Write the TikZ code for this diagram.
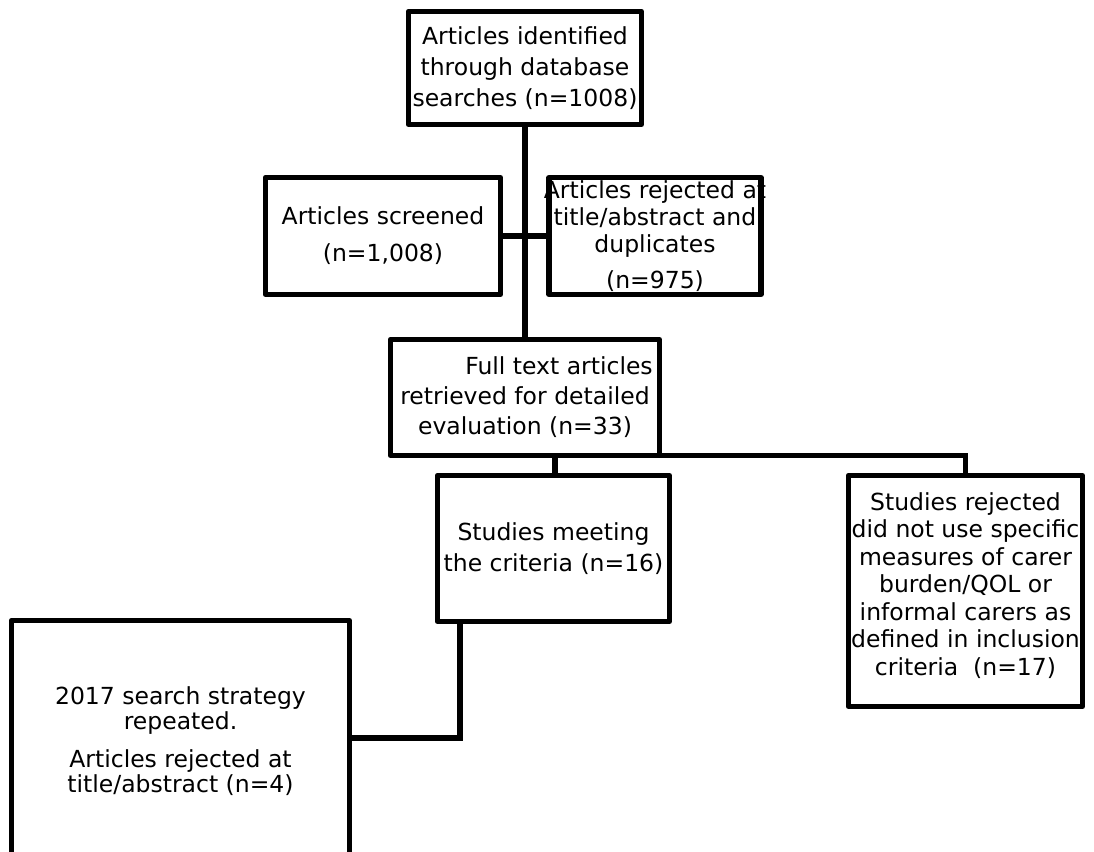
\documentclass[tikz,border=0pt]{standalone}
\usepackage{fontspec}
\setmainfont{DejaVu Sans}
% a line of text that may run past the border without widening its box
\newcommand\midtext[1]{\makebox[0pt]{#1}}
\begin{document}
\begin{tikzpicture}[x=0.5pt,y=-0.5pt,
  box/.style={draw, line width=2.6pt, line join=round, fill=white,
    inner sep=0pt, outer sep=0pt, align=center,
    font=\fontsize{11.75pt}{13.5pt}\selectfont},
  link/.style={line width=2.6pt}]
\useasboundingbox (0,0) rectangle (1094,852);
\fill[white] (0,0) rectangle (1094,852);
\clip (0,0) rectangle (1094,852);

\coordinate (j1) at (555,456);
\coordinate (j2) at (460,738);

\node[box, minimum width=233pt*0.5, minimum height=113pt*0.5,
      font=\fontsize{11.75pt}{15.5pt}\selectfont] (ident) at (525,68)
  {Articles identified\\through database\\searches (n=1008)};
\node[box, minimum width=235pt*0.5, minimum height=117pt*0.5] (screen) at (383,236)
  {Articles screened\\[5pt](n=1,008)};
\node[box, minimum width=212pt*0.5, minimum height=117pt*0.5] (dup) at (655,236)
  {\midtext{Articles rejected at}\\\midtext{title/abstract and}\\\midtext{duplicates}\\[4.5pt]\midtext{(n=975)}};
\node[box, minimum width=269pt*0.5, minimum height=116pt*0.5,
      font=\fontsize{11.75pt}{15pt}\selectfont] (full) at (525,397.5)
  {\hspace*{34pt}Full text articles\\retrieved for detailed\\evaluation (n=33)};
\node[box, minimum width=232pt*0.5, minimum height=146pt*0.5,
      font=\fontsize{11.75pt}{15.5pt}\selectfont] (meet) at (553.5,548.5)
  {Studies meeting\\the criteria (n=16)};
\node[box, minimum width=234pt*0.5, minimum height=231pt*0.5,
      font=\fontsize{11.75pt}{13.75pt}\selectfont] (excl) at (965.5,591)
  {\midtext{Studies rejected}\\\midtext{did not use specific}\\\midtext{measures of carer}\\\midtext{burden/QOL or}\\\midtext{informal carers as}\\\midtext{defined in inclusion}\\\midtext{criteria~~(n=17)}\\[-6.75pt]};
\node[box, minimum width=338pt*0.5, minimum height=241pt*0.5,
      font=\fontsize{11.75pt}{12.75pt}\selectfont] (rep) at (180.5,741)
  {2017 search strategy\\repeated.\\[6pt]Articles rejected at\\title/abstract (n=4)};

% connectors between the boxes
\draw[link] (ident.south) -- (full.north);
\draw[link] (screen.east) -- (dup.west);
\draw[link] (full.south -| j1) -- (meet.north -| j1);
\draw[link] (full.south east) -| (excl.north);
\draw[link] (meet.south -| j2) |- (rep.east |- j2);
\end{tikzpicture}
\end{document}
